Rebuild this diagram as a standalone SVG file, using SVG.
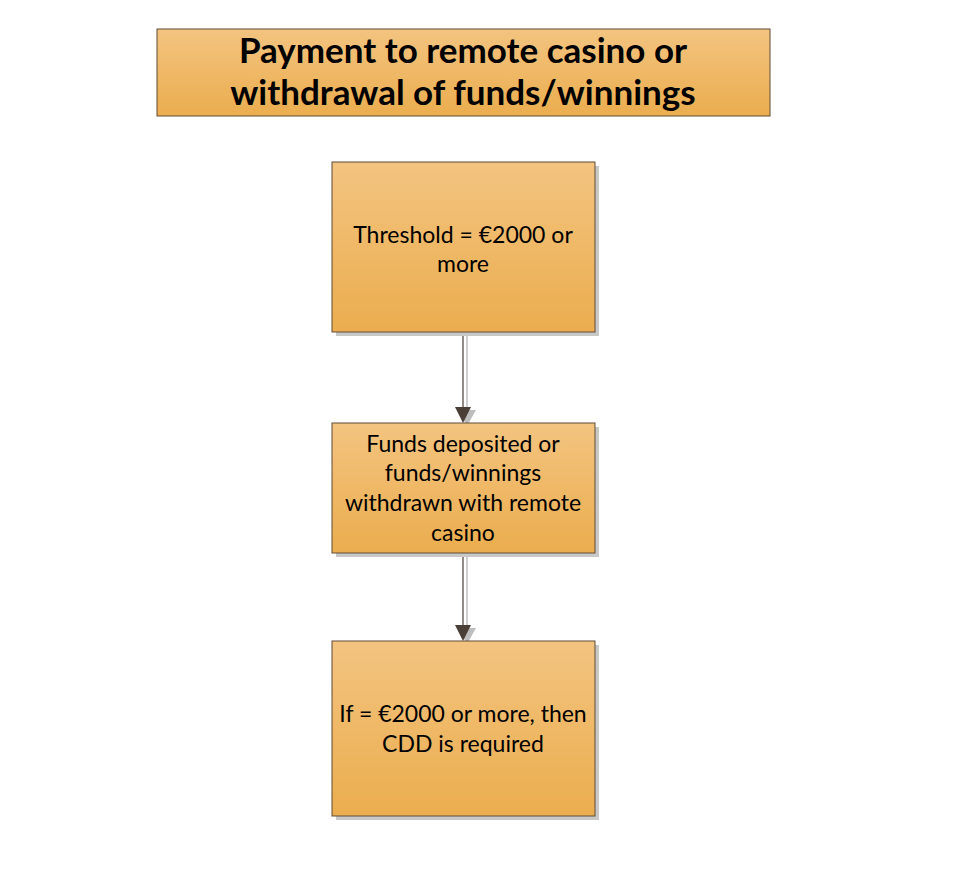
<svg xmlns="http://www.w3.org/2000/svg" width="960" height="880" viewBox="0 0 960 880">
<style>
.box{fill:url(#g);stroke:#5e4b36;stroke-width:1}
.sh{fill:#c8c8c8}
.t{font-family:Lato,"Open Sans","Liberation Sans",sans-serif;font-size:23px;fill:#000;text-anchor:middle}
.title{font-family:Lato,"Open Sans","Liberation Sans",sans-serif;font-size:35px;font-weight:bold;fill:#000;text-anchor:middle}
.ln{stroke:#4a3f36;stroke-width:1.2;fill:none}
.lns{stroke:#d0d0d0;stroke-width:2;fill:none}
</style>
<defs>
<linearGradient id="g" x1="0" y1="0" x2="0" y2="1">
<stop offset="0" stop-color="#F3C480"/>
<stop offset="1" stop-color="#EBAD4E"/>
</linearGradient>
</defs>
<rect width="960" height="880" fill="#fff"/>
<g id="title">
<rect class="box" x="157" y="29" width="613" height="87"/>
<text class="title" x="463" y="63">Payment to remote casino or</text>
<text class="title" x="463" y="105">withdrawal of funds/winnings</text>
</g>
<g id="connectors">
<line class="lns" x1="467" y1="336" x2="467" y2="410"/>
<polygon points="458,410 476,410 467,426" fill="#bdbdbd"/>
<line class="ln" x1="463" y1="332" x2="463" y2="408"/>
<polygon points="455,407 471,407 463,423" fill="#4a3f36"/>
<line class="lns" x1="467" y1="557" x2="467" y2="628"/>
<polygon points="458,628 476,628 467,644" fill="#bdbdbd"/>
<line class="ln" x1="463" y1="553" x2="463" y2="626"/>
<polygon points="455,625 471,625 463,641" fill="#4a3f36"/>
</g>
<g id="n1">
<rect class="sh" x="336" y="166" width="263" height="170"/>
<rect class="box" x="332" y="162" width="263" height="170"/>
<text class="t" x="463" y="243">Threshold = €2000 or</text>
<text class="t" x="463" y="272">more</text>
</g>
<g id="n2">
<rect class="sh" x="336" y="427" width="263" height="130"/>
<rect class="box" x="332" y="423" width="263" height="130"/>
<text class="t" x="463" y="452">Funds deposited or</text>
<text class="t" x="463" y="481">funds/winnings</text>
<text class="t" x="463" y="511">withdrawn with remote</text>
<text class="t" x="463" y="541">casino</text>
</g>
<g id="n3">
<rect class="sh" x="336" y="645" width="263" height="175"/>
<rect class="box" x="332" y="641" width="263" height="175"/>
<text class="t" x="463" y="722">If = €2000 or more, then</text>
<text class="t" x="463" y="752">CDD is required</text>
</g>
</svg>
